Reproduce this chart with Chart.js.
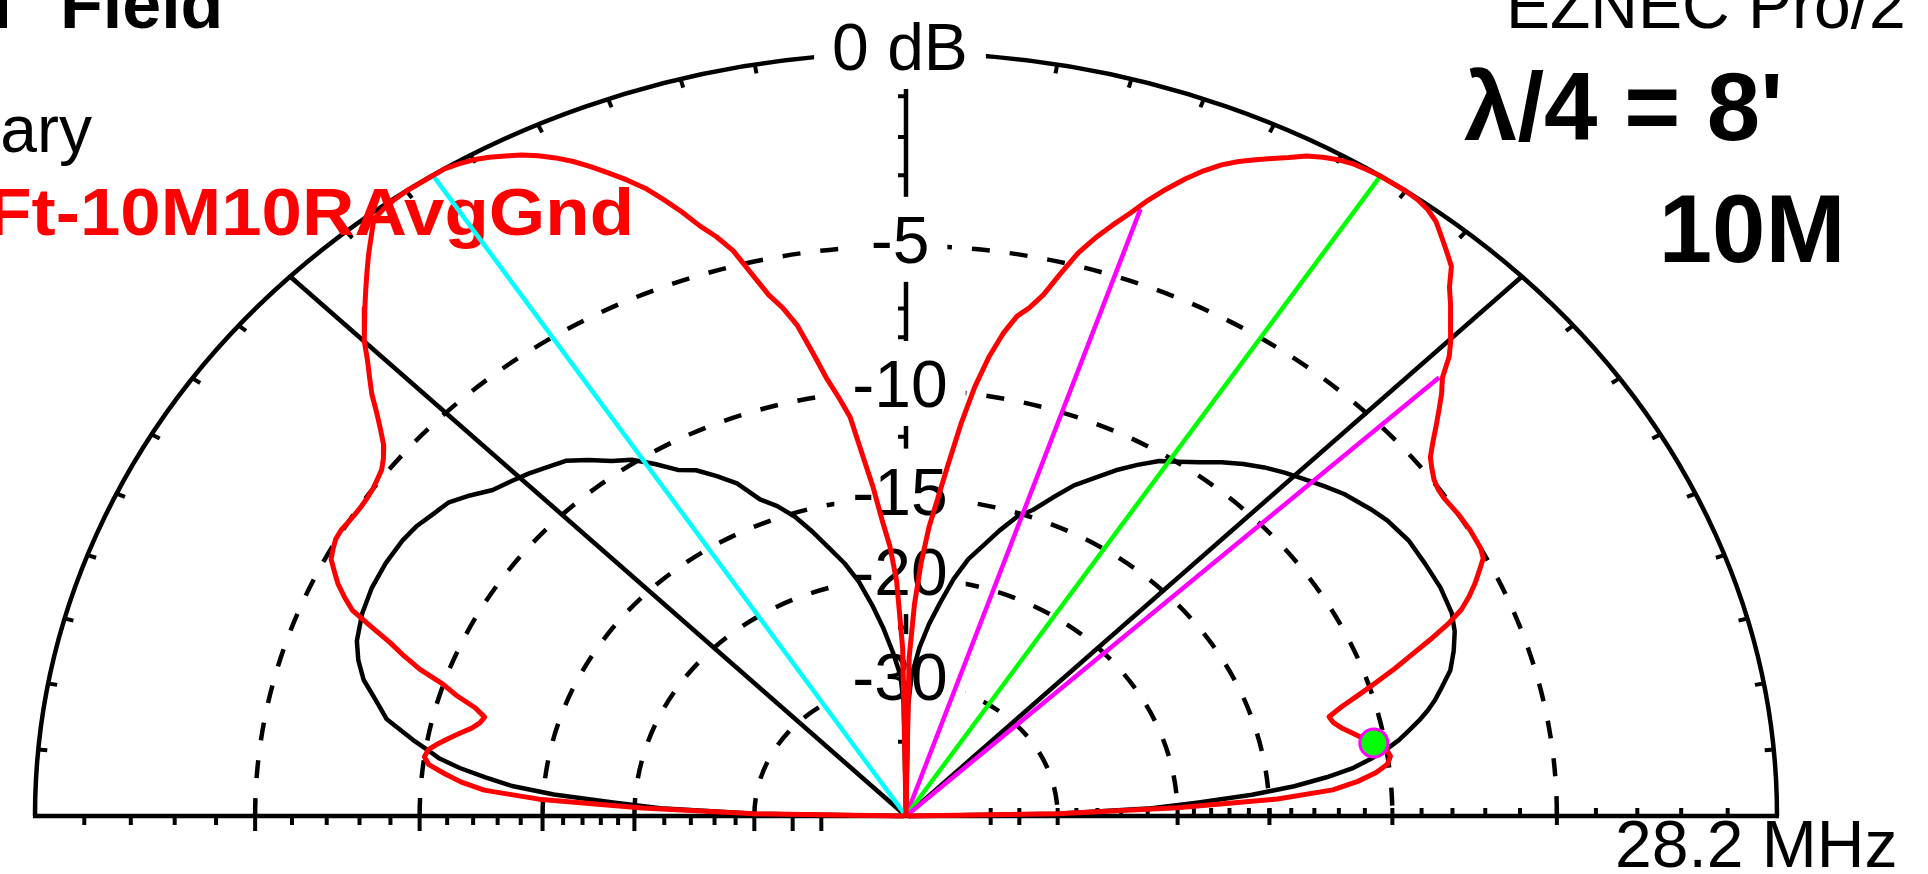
<!DOCTYPE html>
<html>
<head>
<meta charset="utf-8">
<title>Elevation pattern - 10M</title>
<script src="https://cdn.jsdelivr.net/npm/chart.js@4.4.1/dist/chart.umd.min.js"></script>
<style>
  html, body { margin: 0; padding: 0; background: #fff; overflow: hidden; }
  #plot { display: block; }
</style>
</head>
<body>
<canvas id="plot" width="1928" height="874"></canvas>
<script>
// elevation angle (deg) / gain (dB, 0 = max) for the 8 ft radial antenna trace
const redAngles = [0,1,2,3,4,5,6,7,8,9,10,11,12,13,14,15,16,17,18,19,20,21,22,23,24,25,26,27,28,30,32,34,35,36,37,38,39,40,
  41,42,43,44,45,46,47,48,49,50,51,52,53,54,55,57,58,59,60,61,62,63,64,65,66,67,68,69,70,71,72,73,74,75,76,77,78,79,80,
  81,82,83,84,85,86,87,88,89,90,91,92,93,94,95,96,97,98,99,100,101,102,103,104,105,106,107,108,109,110,111,112,113,114,
  115,116,117,118,119,120,121,122,125,126,127,128,129,130,131,132,133,134,135,136,137,138,139,140,141,142,143,144,145,
  146,147,148,149,150,151,152,153,154,155,156,157,158,159,160,161,162,163,164,165,166,167,168,169,170,171,172,173,174,
  175,176,177,178,179,180];
const redGain = [-100,-30,-20,-14.6,-12.2,-11.2,-10.5,-10.05,-9.9,-10.0,-10.4,-10.75,-11.1,-11.45,-11.7,-11.8,-11.2,-10.45,
  -9.7,-8.95,-8.27,-7.54,-6.85,-6.3,-5.93,-5.62,-5.35,-5.08,-5.0,-4.98,-5.0,-5.05,-5.03,-4.95,-4.8,-4.62,-4.3,-3.95,
  -3.6,-3.25,-2.95,-2.45,-2.1,-1.8,-1.5,-1.2,-0.8,-0.6,-0.4,-0.2,-0.08,-0.02,0,0,-0.02,-0.05,-0.12,-0.22,-0.35,-0.55,
  -0.72,-0.9,-1.08,-1.3,-1.58,-1.92,-2.3,-2.72,-3.2,-3.63,-4.09,-4.62,-5.35,-6.1,-6.6,-6.95,-7.6,
  -8.5,-9.7,-11.3,-13.2,-15.0,-16.6,-18.9,-22.0,-27.0,-100,-26,-20.2,-17.8,-16.3,-14.4,-12.8,-11.0,-10.15,-9.35,-8.3,
  -7.25,-6.6,-6.1,-5.35,-4.55,-4.05,-3.65,-3.15,-2.7,-2.28,-1.95,-1.65,-1.35,-1.08,
  -0.85,-0.65,-0.48,-0.35,-0.22,-0.12,-0.05,0,0,-0.02,-0.06,-0.13,-0.42,-0.7,-1.0,-1.3,-1.6,-1.9,-2.2,-2.6,-2.95,-3.3,
  -3.72,-4.1,-4.45,-4.68,-4.85,-4.93,-5.0,
  -5.03,-5.04,-5.03,-5.0,-4.96,-4.97,-5.05,-5.15,-5.4,-5.65,-5.98,-6.35,-7.07,-7.8,-8.39,-9.05,-9.98,-10.6,-11.4,-11.87,
  -11.75,-11.5,-11.12,-10.75,-10.4,-10.1,-10.0,-10.2,-10.8,
  -11.45,-12.4,-14.8,-20.5,-30,-100];

// comparison trace (black)
const blackAngles = [0,1,2,3,4,5,6,7,8,9,10,11,12,13,14,15,17,19,21,23,26,29,32,35,37,40,42,44,46,48,50,52,54,56,58,60,
  62,64,66,68,70,72,74,76,78,80,82,84,86,88,89,90,91,92,94,96,98,100,102,104,106,108,110,112,114,116,118,120,122,124,
  126,128,130,132,134,136,138,140,142,144,146,148,151,154,157,160,162,164,166,168,170,171,172,173,174,175,176,177,178,
  179,180];
const blackGain = [-100,-30,-22,-18.8,-15.8,-13.8,-12.4,-11.3,-10.6,-10.0,-9.5,-9.1,-8.7,-8.35,-8.05,-7.8,-7.3,-7.0,
  -6.75,-6.6,-6.55,-6.58,-6.6,-6.75,-6.92,-7.22,-7.5,-7.78,-8.05,-8.35,-8.7,-9.1,-9.55,-9.95,-10.3,-10.85,-11.45,
  -12.15,-12.8,-13.7,-14.6,-15.2,-16.2,-17.3,-18.3,-19.8,-21.7,-23.6,-25.9,-29,-33,-100,-33,-29,-26.4,-24.0,-21.9,
  -20.0,-18.6,-17.5,-16.3,-15.2,-14.4,-13.8,-12.7,-12.05,-11.45,-11.1,-10.45,-9.85,-9.5,-9.0,-8.55,-8.33,-8.1,-7.9,
  -7.7,-7.3,-6.95,-6.82,-6.66,-6.58,-6.54,-6.56,-6.66,-6.85,-7.1,-7.45,-8.0,-8.5,-9.5,-10.05,-10.55,-11.35,-12.4,
  -13.5,-15.5,-18.8,-22,-30,-100];

// max gain and -3 dB beamwidth lines
const beamAngles = [43.2, 57, 71.3];
const beamGain = [-3, 0, -3];
const beamColors = ['#ff00ff', '#00ff00', '#ff00ff'];
// cursor line
const cursorAngle = 122.9;
const cursorGain = 0;
// low angle lobe marker
const markerAngle = 10.1;
const markerGain = -10.4;

// grid: dashed rings, labelled rings, axis ticks
const ringDb = [-5, -10, -15, -20, -30];
const labelDb = [0, -5, -10, -15, -20, -30];
const labelText = ['0 dB', '-5', '-10', '-15', '-20', '-30'];
const tickDb = [-1,-2,-3,-4,-5,-6,-7,-8,-9,-10,-11,-12,-13,-14,-15,-16,-17,-18,-19,-20,-22,-24,-26,-28,-30,-35,-40];

// ARRL log scale: 0.89^(-dB/2)
const dbToRadius = db => Math.pow(0.89, -db / 2);

function polarPoint(angle, db) {
  const r = dbToRadius(db);
  const t = angle * Math.PI / 180;
  return { x: r * Math.cos(t), y: r * Math.sin(t) };
}
const polarPoints = (angles, gains) => angles.map((a, i) => polarPoint(a, gains[i]));

// pixel layout of the plot
const ORIGIN_X = 906, ORIGIN_Y = 816, RX = 871, RY = 763;
const W = 1928, H = 874;
const FONT = '"Liberation Sans", Arial, sans-serif';

const gridPlugin = {
  id: 'ezGrid',
  beforeDatasetsDraw(chart) {
    const { ctx, scales: { x, y } } = chart;
    const cx = x.getPixelForValue(0), cy = y.getPixelForValue(0);
    const rx = x.getPixelForValue(1) - cx, ry = cy - y.getPixelForValue(1);
    const pt = (deg, k) => [cx + rx * k * Math.cos(deg * Math.PI / 180), cy - ry * k * Math.sin(deg * Math.PI / 180)];

    ctx.save();
    ctx.strokeStyle = '#000';
    ctx.lineWidth = 4.5;

    ctx.setLineDash([18, 20]);
    ringDb.forEach(db => {
      const k = dbToRadius(db);
      ctx.beginPath();
      ctx.ellipse(cx, cy, rx * k, ry * k, 0, Math.PI, 2 * Math.PI);
      ctx.stroke();
    });
    ctx.setLineDash([]);

    ctx.beginPath();
    ctx.ellipse(cx, cy, rx, ry, 0, Math.PI, 2 * Math.PI);
    ctx.stroke();

    [45, 90, 135].forEach(a => {
      const [px, py] = pt(a, 1);
      ctx.beginPath();
      ctx.moveTo(cx, cy);
      ctx.lineTo(px, py);
      ctx.stroke();
    });

    ctx.beginPath();
    ctx.moveTo(cx - rx - 2, cy);
    ctx.lineTo(cx + rx + 2, cy);
    ctx.stroke();

    // 5 degree marks on the outer ring
    ctx.lineWidth = 4;
    for (let a = 5; a < 180; a += 5) {
      const [ox, oy] = pt(a, 1);
      const d = Math.hypot(cx - ox, cy - oy);
      ctx.beginPath();
      ctx.moveTo(ox, oy);
      ctx.lineTo(ox + (cx - ox) * 9 / d, oy + (cy - oy) * 9 / d);
      ctx.stroke();
    }

    // dB marks on the baseline and on the vertical axis
    tickDb.forEach(db => {
      const k = dbToRadius(db);
      const major = db % 5 === 0;
      const xl = cx - rx * k, xr = cx + rx * k, yv = cy - ry * k;
      ctx.beginPath();
      ctx.moveTo(xl, cy); ctx.lineTo(xl, cy + (major ? 15 : 9));
      ctx.moveTo(xr, cy); ctx.lineTo(xr, cy - 8);
      if (major) { ctx.moveTo(xr, cy); ctx.lineTo(xr, cy + 9); }
      ctx.moveTo(cx, yv); ctx.lineTo(cx - 8, yv);
      ctx.stroke();
    });

    // ring labels on white boxes
    ctx.font = '66px ' + FONT;
    ctx.textAlign = 'center';
    ctx.textBaseline = 'alphabetic';
    labelDb.forEach((db, i) => {
      const base = cy - ry * dbToRadius(db) + 17;
      const w = ctx.measureText(labelText[i]).width;
      const lx = cx - 6;
      ctx.fillStyle = '#fff';
      ctx.fillRect(lx - w / 2 - 18, base - 66, w + 36, 85);
      ctx.fillStyle = '#000';
      ctx.fillText(labelText[i], lx, base);
    });

    // header texts
    ctx.fillStyle = '#000';
    ctx.font = 'bold 70px ' + FONT;
    ctx.textAlign = 'right';
    ctx.fillText('Total', 12, 28);
    ctx.textAlign = 'left';
    ctx.fillText('Field', 60, 28);

    ctx.font = '66px ' + FONT;
    ctx.textAlign = 'right';
    ctx.fillText('ary', 92, 152);

    ctx.save();
    ctx.fillStyle = '#ff0000';
    ctx.font = 'bold 66px ' + FONT;
    ctx.translate(634, 235);
    ctx.scale(1.1, 1);
    ctx.textAlign = 'right';
    ctx.fillText('Ft-10M10RAvgGnd', 0, 0);
    ctx.restore();

    ctx.fillStyle = '#000';
    ctx.font = '66px ' + FONT;
    ctx.textAlign = 'left';
    ctx.fillText('EZNEC Pro/2', 1506, 28);
    ctx.fillText('28.2 MHz', 1615, 867);

    ctx.font = 'bold 96px ' + FONT;
    ctx.fillText("\u03BB/4 = 8'", 1464, 140);
    ctx.textAlign = 'center';
    ctx.fillText('10M', 1752, 262);

    ctx.restore();
  }
};

const ray = (angle, db, color) => ({
  data: [{ x: 0, y: 0 }, polarPoint(angle, db)],
  showLine: true,
  borderColor: color,
  borderWidth: 4.5,
  pointRadius: 0
});

const datasets = [
  {
    data: [polarPoint(markerAngle, markerGain)],
    showLine: false,
    pointRadius: 14,
    pointStyle: 'circle',
    backgroundColor: '#00ff00',
    borderColor: '#ff00ff',
    borderWidth: 3
  },
  {
    data: polarPoints(redAngles, redGain),
    showLine: true,
    borderColor: '#ff0000',
    borderWidth: 5,
    borderJoinStyle: 'round',
    borderCapStyle: 'round',
    pointRadius: 0
  },
  ray(cursorAngle, cursorGain, '#00ffff'),
  ...beamAngles.map((a, i) => ray(a, beamGain[i], beamColors[i])),
  {
    data: polarPoints(blackAngles, blackGain),
    showLine: true,
    borderColor: '#000000',
    borderWidth: 4.5,
    borderJoinStyle: 'round',
    pointRadius: 0
  }
];

new Chart(document.getElementById('plot'), {
  type: 'scatter',
  data: { datasets },
  options: {
    responsive: false,
    animation: false,
    devicePixelRatio: 1,
    layout: { padding: 0, autoPadding: false },
    plugins: { legend: { display: false }, tooltip: { enabled: false } },
    elements: { line: { tension: 0 } },
    scales: {
      x: { type: 'linear', display: false, min: -ORIGIN_X / RX, max: (W - ORIGIN_X) / RX },
      y: { type: 'linear', display: false, min: -(H - ORIGIN_Y) / RY, max: ORIGIN_Y / RY }
    }
  },
  plugins: [gridPlugin]
});
</script>
</body>
</html>
